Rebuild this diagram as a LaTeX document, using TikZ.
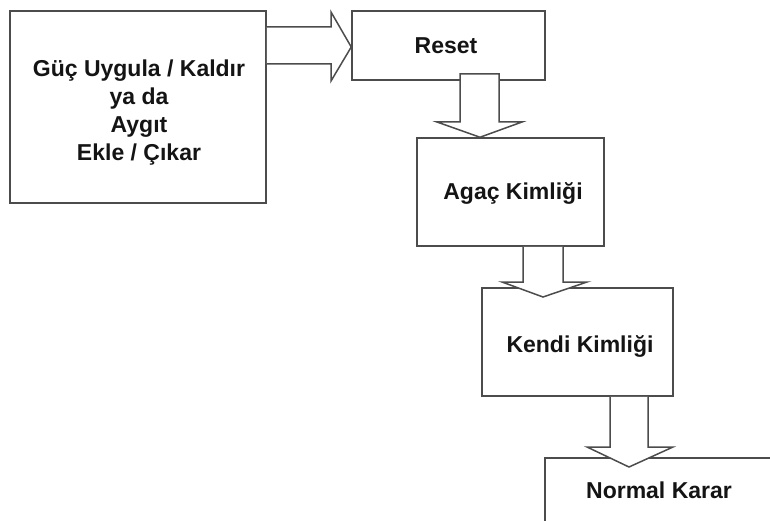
\documentclass[tikz,border=0pt]{standalone}
\usepackage{fontspec}
\setmainfont{Liberation Sans}
\begin{document}
\begin{tikzpicture}[x=1pt,y=-1pt,
  box/.style={draw=black!70, line width=1.5pt, fill=white, inner sep=0pt},
  lbl/.style={inner sep=0pt, align=center, font=\bfseries\fontsize{23}{28}\selectfont, text=black!92},
  blockarrow/.style={draw=black!70, line width=1.5pt, fill=white, line join=miter}]
\useasboundingbox (0,0) rectangle (770,521);
\clip (0,0) rectangle (770,521);
% boxes
\node[box, minimum width=256pt, minimum height=192pt] (pwr) at (138,107) {};
\node[box, minimum width=193pt, minimum height=69pt] (reset) at (448.5,45.5) {};
\node[box, minimum width=187pt, minimum height=108pt] (agac) at (510.5,192) {};
\node[box, minimum width=191pt, minimum height=108pt] (kendi) at (577.5,342) {};
\node[box, minimum width=245pt, minimum height=82pt] (normal) at (667.5,499) {};
% texts
\node[lbl] (pwrtxt) at (139,113) {Güç Uygula / Kaldır\\ya da\\Aygıt\\Ekle / Çıkar};
\node[lbl] (resettxt) at (446,46) {Reset};
\node[lbl] (agactxt) at (513,193) {Agaç Kimliği};
\node[lbl] (kenditxt) at (580,346) {Kendi Kimliği};
\node[lbl] (normaltxt) at (659,490) {Normal Karar};
% block arrows
\draw[blockarrow] (pwr.east |- 0,27) -- (331,27) -- (331,12) -- (reset.west |- 0,47)
  -- (331,81) -- (331,64) -- (pwr.east |- 0,64);
\draw[blockarrow] (460,74) -- (499,74) -- (499,122) -- (522,122) -- (480,0 |- agac.north)
  -- (437,122) -- (460,122) -- cycle;
\draw[blockarrow] (523,0 |- agac.south) -- (523,282) -- (502,282) -- (543,297)
  -- (587,282) -- (563,282) -- (563,0 |- agac.south);
\draw[blockarrow] (610,0 |- kendi.south) -- (610,447) -- (587,447) -- (629,467)
  -- (673,447) -- (648,447) -- (648,0 |- kendi.south);
\end{tikzpicture}
\end{document}
